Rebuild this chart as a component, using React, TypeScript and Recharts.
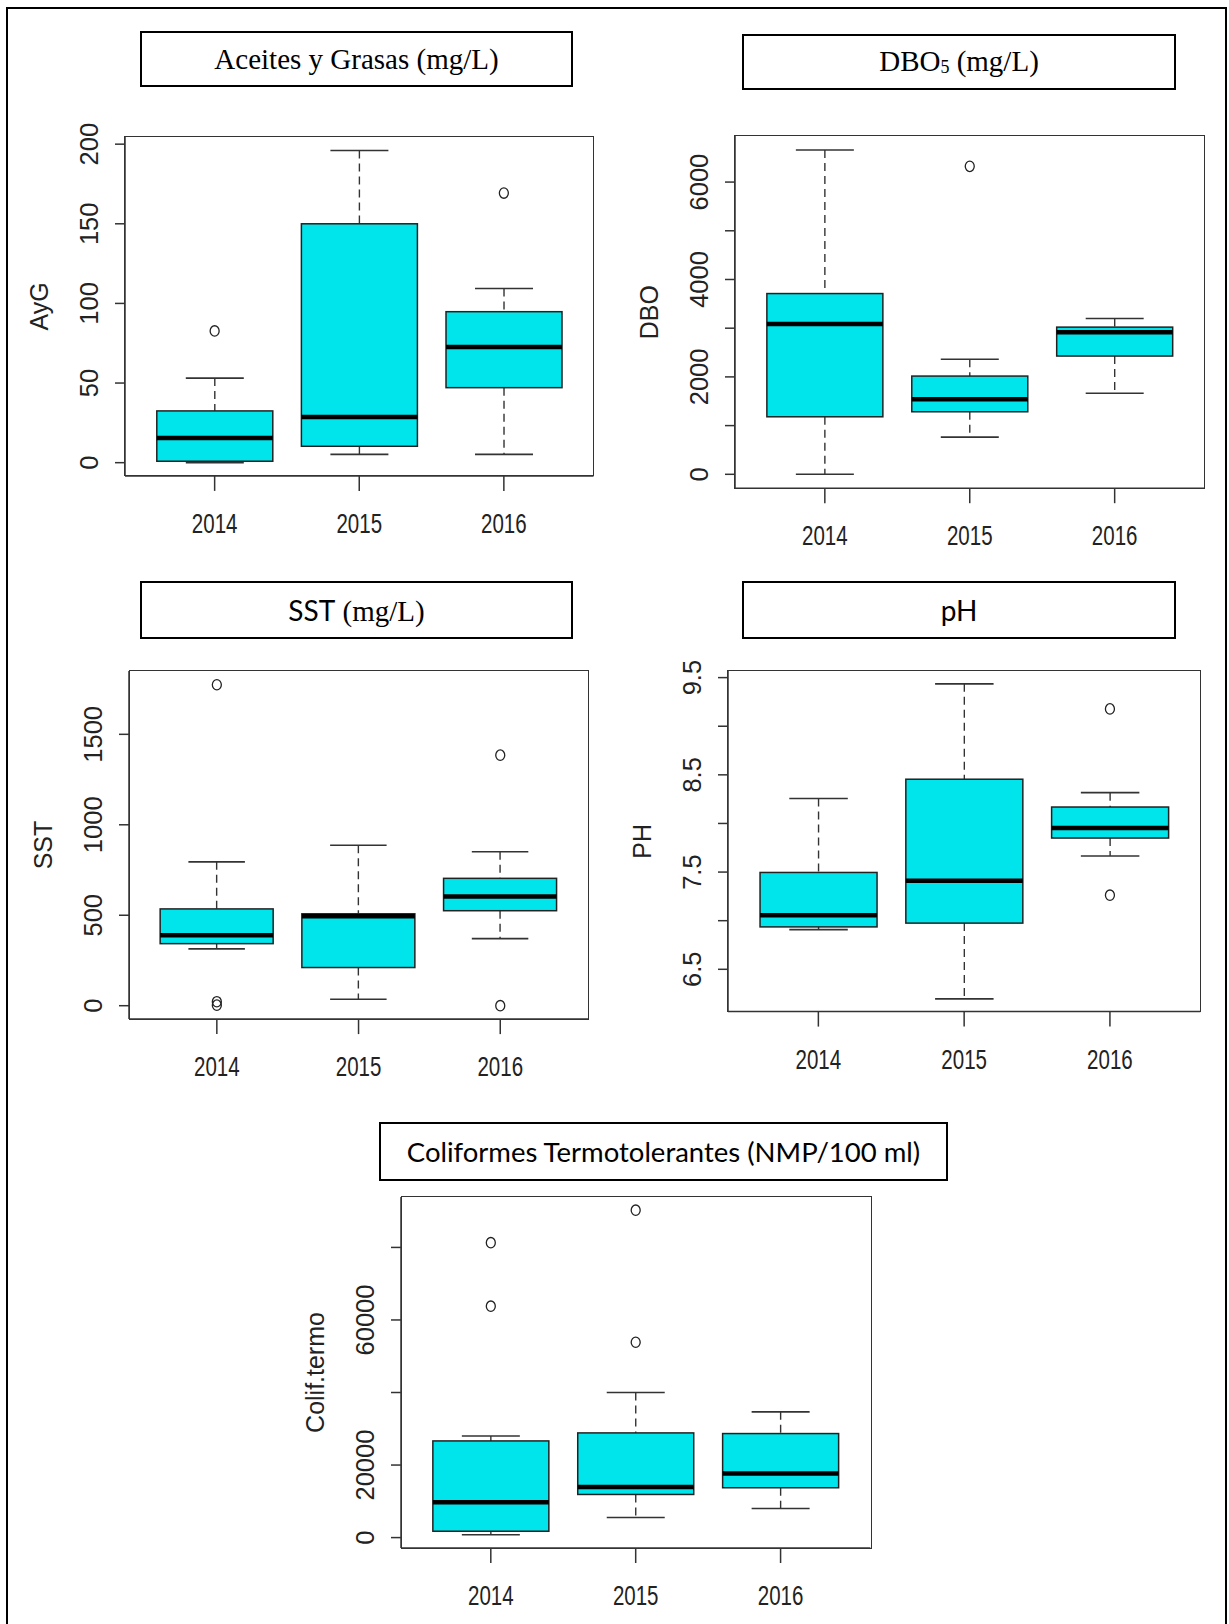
import React from 'react';
import { ComposedChart, Bar, Line, XAxis, YAxis } from 'recharts';

const years = ['2014', '2015', '2016'];

// Aceites y Grasas (mg/L)
const aygLow = [0, 5.2, 5.2];
const aygQ1 = [0.9, 10.3, 47.1];
const aygMed = [15.5, 28.7, 72.6];
const aygQ3 = [32.5, 150, 94.8];
const aygHigh = [53.1, 196, 109.4];
const aygOut = [[82.7], [], [169.3]];
const aygTicks = [0, 50, 100, 150, 200];
const aygLabels = [0, 50, 100, 150, 200];

// DBO5 (mg/L)
const dboLow = [0, 763, 1665];
const dboQ1 = [1181, 1284, 2428];
const dboMed = [3088, 1540, 2919];
const dboQ3 = [3711, 2017, 3022];
const dboHigh = [6660, 2362, 3198];
const dboOut = [[], [6323], []];
const dboTicks = [0, 1000, 2000, 3000, 4000, 5000, 6000];
const dboLabels = [0, 2000, 4000, 6000];

// SST (mg/L)
const sstLow = [314, 36, 371];
const sstQ1 = [343, 211, 525];
const sstMed = [390, 495, 603];
const sstQ3 = [535, 508, 704];
const sstHigh = [795, 887, 851];
const sstOut = [[1774, 22, 3], [], [1385, 0]];
const sstTicks = [0, 500, 1000, 1500];
const sstLabels = [0, 500, 1000, 1500];

// pH
const phLow = [6.908, 6.196, 7.666];
const phQ1 = [6.936, 6.975, 7.85];
const phMed = [7.057, 7.411, 7.953];
const phQ3 = [7.496, 8.455, 8.169];
const phHigh = [8.257, 9.436, 8.317];
const phOut = [[], [], [9.178, 7.262]];
const phTicks = [6.5, 7, 7.5, 8, 8.5, 9, 9.5];
const phLabels = [6.5, 7.5, 8.5, 9.5];

// Coliformes termotolerantes (NMP/100 ml)
const colLow = [800, 5530, 8020];
const colQ1 = [1750, 11890, 13740];
const colMed = [9770, 13920, 17700];
const colQ3 = [26650, 28860, 28680];
const colHigh = [28000, 40000, 34670];
const colOut = [[81300, 63800], [90260, 53850], []];
const colTicks = [0, 20000, 40000, 60000, 80000];
const colLabels = [0, 20000, 60000];

const CYAN = '#00E5EB';
const INK = '#222';
const SANS = "'Liberation Sans', Arial, sans-serif";
const SERIF = "'Liberation Serif', 'Times New Roman', serif";
const CALIBRI = "Lato, 'Open Sans', sans-serif";

function buildRows(low: number[], q1: number[], med: number[], q3: number[], high: number[], out: number[][]) {
  return years.map((year, i) => {
    const row: any = { year, low: low[i], q1: q1[i], med: med[i], q3: q3[i], high: high[i] };
    for (let k = 0; k < 3; k++) row['o' + k] = out[i][k] ?? null;
    return row;
  });
}

const BoxShape = (props: any) => {
  const { x, y, width, height, payload } = props;
  const { low, q1, med, q3, high } = payload;
  const top = Math.min(y, y + height);
  const bot = Math.max(y, y + height);
  const py = (v: number) => bot - ((bot - top) * (v - low)) / (high - low);
  const cx = x + width / 2;
  const cap = width / 4;
  return (
    <g>
      <line x1={cx} x2={cx} y1={py(high)} y2={py(q3)} stroke="#333" strokeWidth={1.4} strokeDasharray="8 5" />
      <line x1={cx} x2={cx} y1={py(q1)} y2={py(low)} stroke="#333" strokeWidth={1.4} strokeDasharray="8 5" />
      <line x1={cx - cap} x2={cx + cap} y1={py(high)} y2={py(high)} stroke="#333" strokeWidth={1.6} />
      <line x1={cx - cap} x2={cx + cap} y1={py(low)} y2={py(low)} stroke="#333" strokeWidth={1.6} />
      <rect x={x} y={py(q3)} width={width} height={py(q1) - py(q3)} fill={CYAN} stroke={INK} strokeWidth={1.5} />
      <line x1={x} x2={x + width} y1={py(med)} y2={py(med)} stroke="#000" strokeWidth={4.5} />
    </g>
  );
};

const OutlierDot = (props: any) => {
  const { cx, cy, value, index, dataKey } = props;
  if (value == null || cy == null || isNaN(cy)) return <g key={`${dataKey}-${index}`} />;
  return <ellipse key={`${dataKey}-${index}`} cx={cx} cy={cy} rx={4.5} ry={5.2} fill="none" stroke={INK} strokeWidth={1.3} />;
};

const XTick = (props: any) => {
  const { x, y, payload } = props;
  return (
    <g transform={`translate(${x},${y + 42})`}>
      <text x={0} y={0} textAnchor="middle" transform="scale(0.76,1)" fontSize={27} fontFamily={SANS} fill={INK}>
        {payload.value}
      </text>
    </g>
  );
};

const LEFT = 130;
const TOP = 40;
const RIGHT = 10;
const BOTTOM = 80;

function Panel({ box, rows, domain, ticks, labels, yLabel }: any) {
  const W = box.x1 - box.x0;
  const H = box.y1 - box.y0;
  const padX = W * 0.037;
  const axisStyle = { stroke: '#333', strokeWidth: 1.5 };
  const yTick = (p: any) => {
    const v = p.payload.value;
    if (!labels.includes(v)) return <g />;
    const bx = p.x - 17;
    return (
      <text x={bx} y={p.y} transform={`rotate(-90 ${bx} ${p.y})`} textAnchor="middle" fontSize={25.5} fontFamily={SANS} fill={INK}>
        {String(v)}
      </text>
    );
  };
  const yLab = () => {
    const lx = LEFT - 77;
    const ly = TOP + H / 2;
    return (
      <text x={lx} y={ly} transform={`rotate(-90 ${lx} ${ly})`} textAnchor="middle" fontSize={25} fontFamily={SANS} fill={INK}>
        {yLabel}
      </text>
    );
  };
  return (
    <>
      <div style={{ position: 'absolute', left: box.x0 - LEFT, top: box.y0 - TOP }}>
        <ComposedChart
          width={W + LEFT + RIGHT}
          height={H + TOP + BOTTOM}
          data={rows}
          margin={{ top: TOP, right: RIGHT, bottom: 0, left: 0 }}
          barCategoryGap="10%"
        >
          <XAxis
            dataKey="year"
            padding={{ left: padX, right: padX }}
            height={BOTTOM}
            tickSize={15}
            tickMargin={0}
            interval={0}
            tick={<XTick />}
            axisLine={axisStyle}
            tickLine={axisStyle}
          />
          <YAxis
            type="number"
            domain={domain}
            ticks={ticks}
            allowDataOverflow
            width={LEFT}
            tickSize={10}
            tickMargin={0}
            interval={0}
            tick={yTick}
            axisLine={axisStyle}
            tickLine={axisStyle}
            label={{ value: yLabel, content: yLab }}
          />
          <Bar dataKey={(d: any) => [d.low, d.high]} shape={BoxShape} isAnimationActive={false} />
          {['o0', 'o1', 'o2'].map((k) => (
            <Line key={k} dataKey={k} stroke="none" dot={OutlierDot} activeDot={false} isAnimationActive={false} connectNulls={false} />
          ))}
        </ComposedChart>
      </div>
      {/* plot frame, like R's box() */}
      <div
        style={{
          position: 'absolute',
          left: box.x0 - 0.75,
          top: box.y0 - 0.75,
          width: W + 1.5,
          height: H + 1.5,
          boxSizing: 'border-box',
          border: '1.5px solid #333',
          pointerEvents: 'none',
        }}
      />
    </>
  );
}

function TitleBox({ x0, y0, x1, y1, children }: any) {
  return (
    <div
      style={{
        position: 'absolute',
        left: x0,
        top: y0,
        width: x1 - x0,
        height: y1 - y0,
        boxSizing: 'border-box',
        border: '2.5px solid #000',
        display: 'flex',
        alignItems: 'center',
        justifyContent: 'center',
        color: '#000',
        whiteSpace: 'nowrap',
      }}
    >
      {children}
    </div>
  );
}

export default function App() {
  return (
    <div style={{ position: 'absolute', left: 0, top: 0, width: 1229, height: 1624, background: '#fff', overflow: 'hidden' }}>
      <div style={{ position: 'absolute', left: 6, top: 7, width: 1221, height: 1700, boxSizing: 'border-box', border: '2.5px solid #000' }} />

      <TitleBox x0={140} y0={31} x1={573} y1={87}>
        <span style={{ fontFamily: SERIF, fontSize: 29 }}>Aceites y Grasas (mg/L)</span>
      </TitleBox>
      <TitleBox x0={742} y0={34} x1={1176} y1={90}>
        <span style={{ fontFamily: SERIF, fontSize: 29 }}>
          DBO<span style={{ fontSize: '0.62em', verticalAlign: '-0.12em' }}>5</span> (mg/L)
        </span>
      </TitleBox>
      <TitleBox x0={140} y0={581} x1={573} y1={639}>
        <span style={{ fontSize: 28 }}>
          <span style={{ fontFamily: CALIBRI }}>SST</span>
          <span style={{ fontFamily: SERIF, fontSize: 29 }}> (mg/L)</span>
        </span>
      </TitleBox>
      <TitleBox x0={742} y0={581} x1={1176} y1={639}>
        <span style={{ fontFamily: CALIBRI, fontSize: 28 }}>pH</span>
      </TitleBox>
      <TitleBox x0={379} y0={1122} x1={948} y1={1181}>
        <span style={{ fontFamily: CALIBRI, fontSize: 27.5 }}>Coliformes Termotolerantes (NMP/100 ml)</span>
      </TitleBox>

      <Panel
        box={{ x0: 124.6, y0: 136.8, x1: 593.1, y1: 475.7 }}
        rows={buildRows(aygLow, aygQ1, aygMed, aygQ3, aygHigh, aygOut)}
        domain={[-8.3, 204.5]}
        ticks={aygTicks}
        labels={aygLabels}
        yLabel="AyG"
      />
      <Panel
        box={{ x0: 734.6, y0: 136, x1: 1204.1, y1: 488.2 }}
        rows={buildRows(dboLow, dboQ1, dboMed, dboQ3, dboHigh, dboOut)}
        domain={[-285, 6946]}
        ticks={dboTicks}
        labels={dboLabels}
        yLabel="DBO"
      />
      <Panel
        box={{ x0: 129.3, y0: 670.9, x1: 588.4, y1: 1019 }}
        rows={buildRows(sstLow, sstQ1, sstMed, sstQ3, sstHigh, sstOut)}
        domain={[-74, 1850]}
        ticks={sstTicks}
        labels={sstLabels}
        yLabel="SST"
      />
      <Panel
        box={{ x0: 727.9, y0: 670.5, x1: 1200.2, y1: 1011.1 }}
        rows={buildRows(phLow, phQ1, phMed, phQ3, phHigh, phOut)}
        domain={[6.065, 9.568]}
        ticks={phTicks}
        labels={phLabels}
        yLabel="PH"
      />
      <Panel
        box={{ x0: 401.4, y0: 1196.9, x1: 870.8, y1: 1547.9 }}
        rows={buildRows(colLow, colQ1, colMed, colQ3, colHigh, colOut)}
        domain={[-2870, 93900]}
        ticks={colTicks}
        labels={colLabels}
        yLabel="Colif.termo"
      />
    </div>
  );
}
